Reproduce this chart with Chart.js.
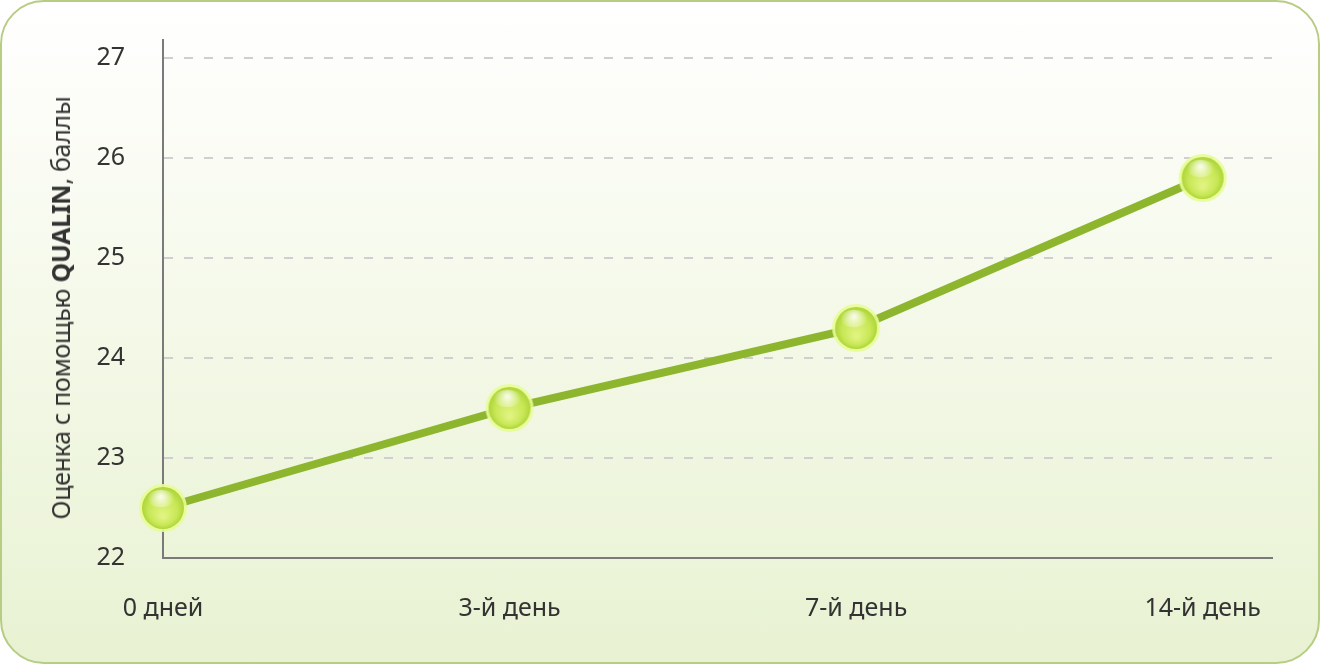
<!DOCTYPE html>
<html>
<head>
<meta charset="utf-8">
<script src="https://cdn.jsdelivr.net/npm/chart.js@4/dist/chart.umd.min.js"></script>
<style>
  html, body { margin: 0; padding: 0; background: #fff; }
  #wrap {
    position: relative;
    width: 1320px; height: 664px;
    box-sizing: border-box;
    border: 2px solid #b7cd83;
    border-radius: 44px;
    background: linear-gradient(#ffffff 0%, #f5f9ea 45%, #e8f2d2 100%);
    overflow: hidden;
  }
  #chart { position: absolute; left: -2px; top: -2px; }
  #ytitle {
    position: absolute; left: 58px; top: 306px;
    transform: translate(-50%, -50%) rotate(-90deg);
    white-space: nowrap;
    font: 25px "Noto Sans", sans-serif;
    letter-spacing: -0.3px;
    color: #333;
  }
</style>
</head>
<body>
<div id="wrap">
  <canvas id="chart" width="1320" height="664"></canvas>
  <div id="ytitle">Оценка с помощью <b>QUALIN</b>, баллы</div>
</div>
<script>
const categories = ['0 дней', '3-й день', '7-й день', '14-й день']
const scores = [22.5, 23.5, 24.3, 25.8]
const yTicks = [22, 23, 24, 25, 26, 27]

// glossy green ball used as point marker
function makeBall (r) {
  const size = r * 2 + 8
  const c = document.createElement('canvas')
  c.width = size
  c.height = size
  const g = c.getContext('2d')
  const m = size / 2

  g.beginPath()
  g.arc(m, m, r + 3, 0, Math.PI * 2)
  g.fillStyle = 'rgba(232, 252, 150, 0.9)'
  g.fill()

  const body = g.createRadialGradient(m, m + r * 0.4, r * 0.1, m, m, r)
  body.addColorStop(0, '#dff37e')
  body.addColorStop(0.65, '#c8e755')
  body.addColorStop(1, '#aed53a')
  g.beginPath()
  g.arc(m, m, r, 0, Math.PI * 2)
  g.fillStyle = body
  g.fill()

  const hi = g.createRadialGradient(m - r * 0.1, m - r * 0.55, 1, m - r * 0.1, m - r * 0.45, r * 0.65)
  hi.addColorStop(0, 'rgba(255,255,255,0.85)')
  hi.addColorStop(1, 'rgba(255,255,255,0)')
  g.beginPath()
  g.ellipse(m - r * 0.1, m - r * 0.45, r * 0.65, r * 0.42, 0, 0, Math.PI * 2)
  g.fillStyle = hi
  g.fill()
  return c
}

const ball = makeBall(21)

new Chart(document.getElementById('chart'), {
  type: 'line',
  data: {
    datasets: [{
      data: scores.map((v, i) => ({ x: i, y: v })),
      borderColor: '#8db52d',
      borderWidth: 8,
      tension: 0,
      pointStyle: ball,
      clip: false
    }]
  },
  options: {
    responsive: false,
    animation: false,
    events: [],
    layout: { padding: { left: 0, top: 40, right: 48, bottom: 0 } },
    plugins: { legend: { display: false }, tooltip: { enabled: false } },
    scales: {
      x: {
        type: 'linear',
        min: 0,
        max: 3.2,
        afterBuildTicks: s => { s.ticks = categories.map((c, i) => ({ value: i })) },
        afterFit: s => { s.height = 106; s.paddingLeft = 0; s.paddingRight = 0 },
        grid: { display: false, drawTicks: false },
        border: { display: true, color: '#7a7a7a', width: 2 },
        ticks: {
          padding: 36,
          color: '#333',
          font: { family: 'Noto Sans', size: 25 },
          callback: v => categories[v]
        }
      },
      y: {
        min: 22,
        max: 27.18,
        afterBuildTicks: s => { s.ticks = yTicks.map(v => ({ value: v })) },
        afterFit: s => { s.width = 163; s.paddingTop = 0; s.paddingBottom = 0 },
        grid: {
          drawTicks: false,
          color: c => c.tick && c.tick.value === 22 ? 'rgba(0,0,0,0)' : '#cfcfcf',
          lineWidth: 2
        },
        border: { display: true, color: '#7a7a7a', width: 2, dash: [9, 11] },
        ticks: {
          padding: 38,
          color: '#333',
          font: { family: 'Noto Sans', size: 25 }
        }
      }
    }
  }
})
</script>
</body>
</html>
